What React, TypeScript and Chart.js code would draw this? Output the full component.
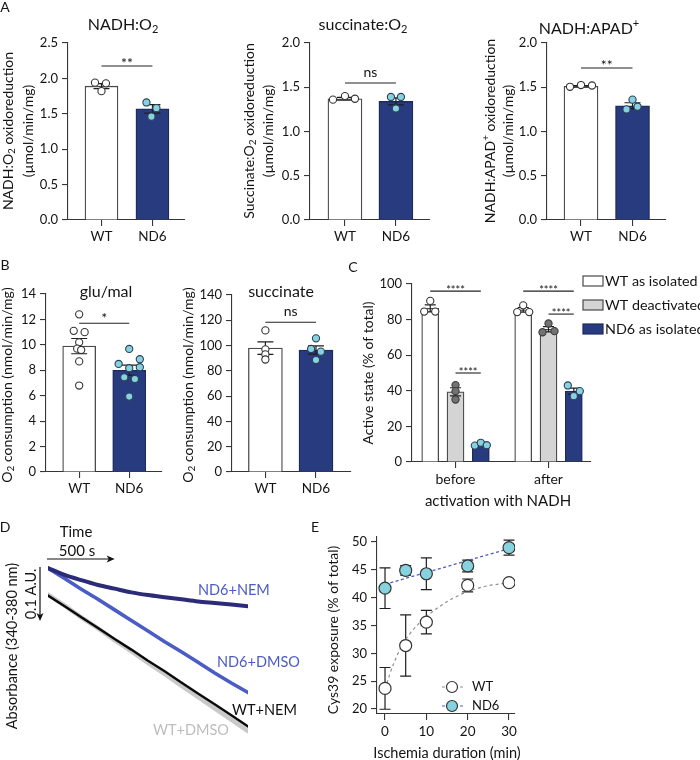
import React, { useEffect, useRef } from 'react';
import { Chart, registerables } from 'chart.js';

Chart.register(...registerables);

// ---------------- DATA ----------------
const GENOTYPES = ['WT', 'ND6'];

// Panel A: NADH:O2
const A1_MEAN = [1.89, 1.57];
const A1_SEM = [0.035, 0.06];
const A1_WT = [1.94, 1.93, 1.82];
const A1_ND6 = [1.66, 1.58, 1.46];
const A1_SIG = { y: 2.175, text: '**' };
// Panel A: succinate:O2
const A2_MEAN = [1.37, 1.34];
const A2_SEM = [0.015, 0.04];
const A2_WT = [1.36, 1.4, 1.37];
const A2_ND6 = [1.39, 1.39, 1.26];
const A2_SIG = { y: 1.548, text: 'ns' };
// Panel A: NADH:APAD+
const A3_MEAN = [1.51, 1.29];
const A3_SEM = [0.01, 0.035];
const A3_WT = [1.505, 1.525, 1.52];
const A3_ND6 = [1.36, 1.25, 1.28];
const A3_SIG = { y: 1.717, text: '**' };
const A1_Y_TICKS = [0, 0.5, 1.0, 1.5, 2.0, 2.5];
const A23_Y_TICKS = [0, 0.5, 1.0, 1.5, 2.0];

// Panel B: O2 consumption
const B1_MEAN = [9.9, 8.0];
const B1_SEM = [0.6, 0.4];
const B1_WT = [12.4, 11.1, 11.0, 10.2, 9.7, 9.6, 8.7, 6.8];
const B1_ND6 = [9.68, 8.5, 8.87, 8.16, 8.24, 7.45, 7.32, 5.93];
const B1_SIG = { y: 11.7, text: '*' };
const B2_MEAN = [98, 96.5];
const B2_SEM = [5, 3.2];
const B2_WT = [112, 97, 93, 89];
const B2_ND6 = [105.7, 97.3, 95.2, 88.6];
const B2_SIG = { y: 118.4, text: 'ns' };
const B1_Y_TICKS = [0, 2, 4, 6, 8, 10, 12, 14];
const B2_Y_TICKS = [0, 20, 40, 60, 80, 100, 120, 140];

// Panel C: active state
const C_GROUPS = ['before', 'after'];
const C_SERIES = ['WT as isolated', 'WT deactivated', 'ND6 as isolated'];
const C_WT_ISO_MEAN = [86.3, 85.5];
const C_WT_ISO_SEM = [2.0, 1.3];
const C_WT_DEACT_MEAN = [39.4, 74.6];
const C_WT_DEACT_SEM = [2.3, 1.5];
const C_ND6_ISO_MEAN = [9.6, 39.8];
const C_ND6_ISO_SEM = [0.5, 1.7];
const C_WT_ISO_PTS = [[90.5, 84.5, 84.5], [88.0, 84.2, 84.2]];
const C_WT_DEACT_PTS = [[43.2, 39.8, 35.1], [77.8, 72.9, 73.5]];
const C_ND6_ISO_PTS = [[9.2, 10.8, 9.4], [43.0, 39.8, 37.0]];
const C_Y_TICKS = [0, 20, 40, 60, 80, 100];
const C_SIG_Y = [96, 50, 96, 83.1];

// Panel D: absorbance traces (A.U., relative), time in s
const D_TIME = [0, 125, 250, 375, 500, 625, 750, 875, 1000, 1125, 1250, 1375, 1500];
const D_ND6_NEM = [0, -0.013, -0.023, -0.032, -0.039, -0.046, -0.051, -0.055, -0.059, -0.063, -0.066, -0.069, -0.072];
const D_ND6_DMSO = [0, -0.02, -0.04, -0.059, -0.079, -0.099, -0.119, -0.139, -0.158, -0.178, -0.198, -0.217, -0.235];
const D_WT_NEM = [-0.052, -0.072, -0.093, -0.113, -0.134, -0.154, -0.175, -0.195, -0.216, -0.237, -0.257, -0.278, -0.299];
const D_WT_DMSO = [-0.05, -0.071, -0.093, -0.114, -0.136, -0.157, -0.179, -0.2, -0.222, -0.243, -0.265, -0.286, -0.308];
const D_SCALE_T = 500;
const D_SCALE_AU = 0.1;

// Panel E: Cys39 exposure
const E_TIME = [0, 5, 10, 20, 30];
const E_WT = [23.7, 31.4, 35.6, 42.2, 42.7];
const E_WT_ERR = [3.75, 5.5, 2.1, 1.15, 0.3];
const E_ND6 = [41.7, 44.9, 44.3, 45.7, 49.0];
const E_ND6_ERR = [3.65, 0.85, 2.85, 1.05, 1.35];
const E_WT_FIT_T = [0, 1, 2, 4, 6, 8, 10, 13, 16, 20, 24, 28, 30];
const E_WT_FIT = [23.6, 25.9, 28.0, 31.3, 33.5, 35.2, 36.6, 38.3, 39.7, 41.1, 42.0, 42.5, 42.7];
const E_ND6_FIT_T = [0, 30];
const E_ND6_FIT = [42.4, 48.8];
const E_X_TICKS = [0, 10, 20, 30];
const E_Y_TICKS = [20, 25, 30, 35, 40, 45, 50];

// ---------------- STYLE ----------------
const FONT = 'Lato, "Noto Sans", "DejaVu Sans", sans-serif';
const TEXT = '#141414';
const AXIS = '#363636';
const NAVY = '#283b7e';
const NAVY_EDGE = '#1d2a5e';
const CYAN = '#86d3df';
const GRAY_BAR = '#d4d4d4';
const GRAY_DOT = '#727272';
const BLUE = '#4b5cc4';
const INDIGO = '#2b2b7a';
const WT_EDGE = '#4a4a4a';

type Rect = { x: number; y: number; w: number; h: number };
type Area = { l: number; t: number; r: number; b: number };
type Seg = { t: string; sub?: boolean; sup?: boolean };
type TextSpec = { x: number; y: number; text: string | Seg[]; size?: number; color?: string; align?: 'left' | 'center' | 'right'; rot?: boolean };
type Err = { dataset: number; xs: number[]; lo: number[]; hi: number[]; cap: number };
type Sig = { x1: number; x2: number; y: number; text: string; size: number; lift: number };

function drawText(ctx: CanvasRenderingContext2D, s: TextSpec) {
  const size = s.size ?? 13;
  const segs: Seg[] = typeof s.text === 'string' ? [{ t: s.text }] : s.text;
  ctx.save();
  ctx.translate(s.x, s.y);
  if (s.rot) ctx.rotate(-Math.PI / 2);
  ctx.fillStyle = s.color ?? TEXT;
  ctx.textBaseline = 'middle';
  ctx.textAlign = 'left';
  const fontOf = (g: Seg) => `${g.sub || g.sup ? Math.round(size * 0.68) : size}px ${FONT}`;
  const widths = segs.map((g) => {
    ctx.font = fontOf(g);
    return ctx.measureText(g.t).width;
  });
  const total = widths.reduce((a, b) => a + b, 0);
  let x = s.align === 'left' ? 0 : s.align === 'right' ? -total : -total / 2;
  segs.forEach((g, i) => {
    ctx.font = fontOf(g);
    const dy = g.sub ? size * 0.3 : g.sup ? -size * 0.32 : 0;
    ctx.fillText(g.t, x, dy);
    x += widths[i];
  });
  ctx.restore();
}

function drawErr(chart: any, e: Err) {
  const { ctx, scales } = chart;
  const xs = scales.x;
  const ys = scales.y;
  ctx.save();
  ctx.strokeStyle = '#1e1e1e';
  ctx.lineWidth = 1.2;
  e.xs.forEach((xv, i) => {
    const px = xs.getPixelForValue(xv);
    const lo = ys.getPixelForValue(e.lo[i]);
    const hi = ys.getPixelForValue(e.hi[i]);
    ctx.beginPath();
    ctx.moveTo(px, lo);
    ctx.lineTo(px, hi);
    ctx.moveTo(px - e.cap / 2, hi);
    ctx.lineTo(px + e.cap / 2, hi);
    ctx.moveTo(px - e.cap / 2, lo);
    ctx.lineTo(px + e.cap / 2, lo);
    ctx.stroke();
  });
  ctx.restore();
}

function decor(d: {
  rect: Rect;
  errs?: Err[];
  errsFirst?: boolean;
  sigs?: Sig[];
  texts?: TextSpec[];
  extra?: (ctx: CanvasRenderingContext2D, chart: any, rect: Rect) => void;
}) {
  return {
    id: 'decor',
    beforeDatasetsDraw(chart: any) {
      if (d.errsFirst) (d.errs || []).forEach((e) => drawErr(chart, e));
    },
    afterDatasetDraw(chart: any, args: any) {
      if (!d.errsFirst) (d.errs || []).filter((e) => e.dataset === args.index).forEach((e) => drawErr(chart, e));
    },
    afterDraw(chart: any) {
      const ctx = chart.ctx as CanvasRenderingContext2D;
      const { x, y } = chart.scales;
      (d.sigs || []).forEach((s) => {
        const x1 = x.getPixelForValue(s.x1);
        const x2 = x.getPixelForValue(s.x2);
        const py = y.getPixelForValue(s.y);
        ctx.save();
        ctx.strokeStyle = '#222';
        ctx.lineWidth = 1.1;
        ctx.beginPath();
        ctx.moveTo(x1, py);
        ctx.lineTo(x2, py);
        ctx.stroke();
        ctx.fillStyle = TEXT;
        ctx.font = `${s.size}px ${FONT}`;
        ctx.textAlign = 'center';
        ctx.textBaseline = 'alphabetic';
        ctx.fillText(s.text, (x1 + x2) / 2, py + s.lift);
        ctx.restore();
      });
      if (d.extra) d.extra(ctx, chart, d.rect);
      ctx.save();
      ctx.translate(-d.rect.x, -d.rect.y);
      (d.texts || []).forEach((t) => drawText(ctx, t));
      ctx.restore();
    },
  };
}

function gridOpts() {
  return { display: true, drawOnChartArea: false, drawTicks: true, tickLength: 6, color: AXIS, lineWidth: 1.1, offset: false };
}
function borderOpts() {
  return { display: true, color: AXIS, width: 1.1 };
}

function xAxis(min: number, max: number, ticks: number[], labels: string[], size: number, pad: number, height: number) {
  return {
    type: 'linear',
    min,
    max,
    offset: false,
    afterBuildTicks: (s: any) => {
      s.ticks = ticks.map((v) => ({ value: v }));
    },
    afterFit: (s: any) => {
      s.height = height;
    },
    grid: gridOpts(),
    border: borderOpts(),
    ticks: {
      autoSkip: false,
      maxRotation: 0,
      minRotation: 0,
      padding: pad,
      color: TEXT,
      font: { family: FONT, size },
      callback: (_v: any, i: number) => labels[i],
    },
  };
}

function yAxis(min: number, max: number, ticks: number[], fmt: (v: number) => string, size: number, width: number) {
  return {
    type: 'linear',
    min,
    max,
    offset: false,
    afterBuildTicks: (s: any) => {
      s.ticks = ticks.map((v) => ({ value: v }));
    },
    afterFit: (s: any) => {
      s.width = width;
    },
    grid: gridOpts(),
    border: borderOpts(),
    ticks: {
      autoSkip: false,
      padding: 4,
      color: TEXT,
      font: { family: FONT, size },
      callback: (_v: any, i: number) => fmt(ticks[i]),
    },
  };
}

interface Series {
  xs: number[];
  means: number[];
  sems: number[];
  fill: string;
  edge: string;
  points: number[][];
  jitter: number[][];
  dotFill: string;
  dotEdge: string;
}

interface BarSpec {
  rect: Rect;
  area: Area;
  xMin: number;
  xMax: number;
  xTicks: number[];
  xLabels: string[];
  xFont: number;
  xPad: number;
  yMax: number;
  yTicks: number[];
  yDec: number;
  barW: number;
  dotR: number;
  cap: number;
  series: Series[];
  sigs: Sig[];
  texts: TextSpec[];
  extra?: (ctx: CanvasRenderingContext2D, chart: any, rect: Rect) => void;
}

function barConfig(sp: BarSpec) {
  const pxPerX = (sp.area.r - sp.area.l) / (sp.xMax - sp.xMin);
  const datasets: any[] = [];
  sp.series.forEach((s) =>
    datasets.push({
      type: 'bar',
      data: s.xs.map((x, i) => ({ x, y: s.means[i] })),
      backgroundColor: s.fill,
      borderColor: s.edge,
      borderWidth: 1.3,
      borderSkipped: 'start',
      barThickness: sp.barW,
      grouped: false,
      order: 10,
    })
  );
  sp.series.forEach((s) => {
    const pts: { x: number; y: number }[] = [];
    s.points.forEach((arr, i) =>
      arr.forEach((v, k) => pts.push({ x: s.xs[i] + (s.jitter[i][k] || 0) / pxPerX, y: v }))
    );
    datasets.push({
      type: 'scatter',
      data: pts,
      pointRadius: sp.dotR,
      pointBackgroundColor: s.dotFill,
      pointBorderColor: s.dotEdge,
      pointBorderWidth: 1.1,
      order: 1,
    });
  });
  const errs: Err[] = sp.series.map((s, i) => ({
    dataset: i,
    xs: s.xs,
    lo: s.means.map((m, k) => m - s.sems[k]),
    hi: s.means.map((m, k) => m + s.sems[k]),
    cap: sp.cap,
  }));
  return {
    type: 'bar',
    data: { datasets },
    options: {
      responsive: false,
      animation: false,
      events: [],
      layout: {
        padding: { left: 0, top: sp.area.t - sp.rect.y, right: sp.rect.x + sp.rect.w - sp.area.r, bottom: 0 },
      },
      plugins: { legend: { display: false }, tooltip: { enabled: false } },
      scales: {
        x: xAxis(sp.xMin, sp.xMax, sp.xTicks, sp.xLabels, sp.xFont, sp.xPad, sp.rect.y + sp.rect.h - sp.area.b),
        y: yAxis(0, sp.yMax, sp.yTicks, (v) => v.toFixed(sp.yDec), 13, sp.area.l - sp.rect.x),
      },
    },
    plugins: [decor({ rect: sp.rect, errs, sigs: sp.sigs, texts: sp.texts, extra: sp.extra })],
  };
}

function genoSeries(means: number[], sems: number[], wt: number[], nd6: number[], jWT: number[], jND6: number[]): Series[] {
  return [
    { xs: [0], means: [means[0]], sems: [sems[0]], fill: '#ffffff', edge: WT_EDGE, points: [wt], jitter: [jWT], dotFill: '#ffffff', dotEdge: '#333' },
    { xs: [1], means: [means[1]], sems: [sems[1]], fill: NAVY, edge: NAVY_EDGE, points: [nd6], jitter: [jND6], dotFill: CYAN, dotEdge: '#2f3f5a' },
  ];
}

const sub2 = (pre: string, post = ''): Seg[] => [{ t: pre }, { t: '2', sub: true }, ...(post ? [{ t: post }] : [])];

// ---------- Panel A ----------
const A1: BarSpec = {
  rect: { x: -2, y: 0, w: 192, h: 252 },
  area: { l: 68, t: 43, r: 185, b: 220 },
  xMin: -0.657, xMax: 1.637, xTicks: [0, 1], xLabels: GENOTYPES, xFont: 13.5, xPad: 3,
  yMax: 2.5, yTicks: A1_Y_TICKS, yDec: 1, barW: 33, dotR: 3.6, cap: 16,
  series: genoSeries(A1_MEAN, A1_SEM, A1_WT, A1_ND6, [-6.5, 4.5, 0], [-6, 4, -1]),
  sigs: [{ x1: 0, x2: 1, y: A1_SIG.y, text: A1_SIG.text, size: 14, lift: 2 }],
  texts: [
    { x: 123, y: 25, text: sub2('NADH:O'), size: 16 },
    { x: 8, y: 131, text: sub2('NADH:O', ' oxidoreduction'), size: 14, rot: true },
    { x: 28, y: 131, text: '(µmol/min/mg)', size: 14, rot: true },
  ],
};
const A2: BarSpec = {
  rect: { x: 236, y: 0, w: 199, h: 252 },
  area: { l: 310, t: 43, r: 430, b: 220 },
  xMin: -0.686, xMax: 1.667, xTicks: [0, 1], xLabels: GENOTYPES, xFont: 13.5, xPad: 3,
  yMax: 2.0, yTicks: A23_Y_TICKS, yDec: 1, barW: 34, dotR: 3.6, cap: 16,
  series: genoSeries(A2_MEAN, A2_SEM, A2_WT, A2_ND6, [-12, 0, 10], [-5, 5, 0]),
  sigs: [{ x1: 0, x2: 1, y: A2_SIG.y, text: A2_SIG.text, size: 14, lift: -6 }],
  texts: [
    { x: 363, y: 25, text: sub2('succinate:O'), size: 16 },
    { x: 249, y: 131, text: sub2('Succinate:O', ' oxidoreduction'), size: 14, rot: true },
    { x: 268, y: 131, text: '(µmol/min/mg)', size: 14, rot: true },
  ],
};
const A3: BarSpec = {
  rect: { x: 476, y: 0, w: 196, h: 252 },
  area: { l: 547, t: 43, r: 666, b: 220 },
  xMin: -0.66, xMax: 1.65, xTicks: [0, 1], xLabels: GENOTYPES, xFont: 13.5, xPad: 3,
  yMax: 2.0, yTicks: A23_Y_TICKS, yDec: 1, barW: 34, dotR: 3.6, cap: 16,
  series: genoSeries(A3_MEAN, A3_SEM, A3_WT, A3_ND6, [-11, 0, 11], [0, -6, 5]),
  sigs: [{ x1: 0, x2: 1, y: A3_SIG.y, text: A3_SIG.text, size: 14, lift: 2 }],
  texts: [
    { x: 589, y: 29, text: [{ t: 'NADH:APAD' }, { t: '+', sup: true }], size: 16 },
    { x: 490, y: 131, text: [{ t: 'NADH:APAD' }, { t: '+', sup: true }, { t: ' oxidoreduction' }], size: 14, rot: true },
    { x: 508, y: 131, text: '(µmol/min/mg)', size: 14, rot: true },
  ],
};

// ---------- Panel B ----------
const B1: BarSpec = {
  rect: { x: -3, y: 262, w: 170, h: 238 },
  area: { l: 46, t: 294, r: 163, b: 472 },
  xMin: -0.663, xMax: 1.653, xTicks: [0, 1], xLabels: GENOTYPES, xFont: 13.5, xPad: 3,
  yMax: 14, yTicks: B1_Y_TICKS, yDec: 0, barW: 33, dotR: 3.6, cap: 16,
  series: genoSeries(B1_MEAN, B1_SEM, B1_WT, B1_ND6, [0, -5.5, 5.5, 0, -2, 2, 0, 0], [0, -10.7, 10.7, 0, 10.7, -5, 5.7, 0]),
  sigs: [{ x1: 0, x2: 1, y: B1_SIG.y, text: B1_SIG.text, size: 14, lift: 0 }],
  texts: [
    { x: 106, y: 292, text: 'glu/mal', size: 16 },
    { x: 7, y: 385, text: sub2('O', ' consumption (nmol/min/mg)'), size: 14, rot: true },
  ],
};
const B2: BarSpec = {
  rect: { x: 176, y: 262, w: 180, h: 238 },
  area: { l: 232, t: 295, r: 353, b: 472 },
  xMin: -0.66, xMax: 1.69, xTicks: [0, 1], xLabels: GENOTYPES, xFont: 13.5, xPad: 3,
  yMax: 140, yTicks: B2_Y_TICKS, yDec: 0, barW: 34, dotR: 3.6, cap: 16,
  series: genoSeries(B2_MEAN, B2_SEM, B2_WT, B2_ND6, [0, 0, 0, 0], [0, -5, 5, 0]),
  sigs: [{ x1: 0, x2: 1, y: B2_SIG.y, text: B2_SIG.text, size: 14, lift: -6 }],
  texts: [
    { x: 281, y: 292, text: 'succinate', size: 16 },
    { x: 188, y: 385, text: sub2('O', ' consumption (nmol/min/mg)'), size: 14, rot: true },
  ],
};

// ---------- Panel C ----------
const C_OFF = 0.272;
const C_FILLS = ['#ffffff', GRAY_BAR, NAVY];
const C: BarSpec = {
  rect: { x: 355, y: 262, w: 345, h: 250 },
  area: { l: 412, t: 284, r: 591, b: 462 },
  xMin: -0.468, xMax: 1.457, xTicks: [0, 1], xLabels: C_GROUPS, xFont: 14, xPad: 3,
  yMax: 100, yTicks: C_Y_TICKS, yDec: 0, barW: 17, dotR: 3.6, cap: 11,
  series: [
    { xs: [-C_OFF, 1 - C_OFF], means: C_WT_ISO_MEAN, sems: C_WT_ISO_SEM, fill: C_FILLS[0], edge: WT_EDGE, points: C_WT_ISO_PTS, jitter: [[0, -6, 5], [0, -6, 6]], dotFill: '#ffffff', dotEdge: '#333' },
    { xs: [0, 1], means: C_WT_DEACT_MEAN, sems: C_WT_DEACT_SEM, fill: C_FILLS[1], edge: WT_EDGE, points: C_WT_DEACT_PTS, jitter: [[0, 0, 0], [0, -6, 6]], dotFill: GRAY_DOT, dotEdge: '#3d3d3d' },
    { xs: [C_OFF, 1 + C_OFF], means: C_ND6_ISO_MEAN, sems: C_ND6_ISO_SEM, fill: C_FILLS[2], edge: NAVY_EDGE, points: C_ND6_ISO_PTS, jitter: [[-6, 0, 6], [-6, 6, 0]], dotFill: CYAN, dotEdge: '#2f3f5a' },
  ],
  sigs: [
    { x1: -C_OFF, x2: C_OFF, y: C_SIG_Y[0], text: '****', size: 11, lift: 3 },
    { x1: 0, x2: C_OFF, y: C_SIG_Y[1], text: '****', size: 11, lift: 3 },
    { x1: 1 - C_OFF, x2: 1 + C_OFF, y: C_SIG_Y[2], text: '****', size: 11, lift: 3 },
    { x1: 1, x2: 1 + C_OFF, y: C_SIG_Y[3], text: '****', size: 11, lift: 3 },
  ],
  texts: [
    { x: 368, y: 373, text: 'Active state (% of total)', size: 14, rot: true },
    { x: 498, y: 501, text: 'activation with NADH', size: 15 },
    ...C_SERIES.map((s, i) => ({ x: 605, y: 281 + i * 24, text: s, size: 14.3, align: 'left' as const })),
  ],
  extra: (ctx, _chart, rect) => {
    ctx.save();
    ctx.translate(-rect.x, -rect.y);
    C_SERIES.forEach((_s, i) => {
      const cy = 281 + i * 24;
      ctx.fillStyle = C_FILLS[i];
      ctx.fillRect(583, cy - 5, 20, 10);
      ctx.strokeStyle = i === 2 ? NAVY_EDGE : WT_EDGE;
      ctx.lineWidth = 1.2;
      ctx.strokeRect(583, cy - 5, 20, 10);
    });
    ctx.restore();
  },
};

// ---------- Panel D ----------
const D_RECT: Rect = { x: 0, y: 515, w: 310, h: 245 };
const D_Y_MIN = -0.33;
const D_Y_MAX = 0.02;
function dConfig() {
  const mk = (vals: number[]) => D_TIME.map((t, i) => ({ x: t, y: vals[i] }));
  return {
    type: 'line',
    data: {
      datasets: [
        { data: mk(D_WT_DMSO), borderColor: '#c9c9c9', borderWidth: 4.5, pointRadius: 0, borderCapStyle: 'round', order: 4 },
        { data: mk(D_WT_NEM), borderColor: '#0a0a0a', borderWidth: 2.4, pointRadius: 0, borderCapStyle: 'round', order: 3 },
        { data: mk(D_ND6_DMSO), borderColor: BLUE, borderWidth: 3.6, pointRadius: 0, borderCapStyle: 'round', order: 2 },
        { data: mk(D_ND6_NEM), borderColor: INDIGO, borderWidth: 4, pointRadius: 0, borderCapStyle: 'round', cubicInterpolationMode: 'monotone', order: 1 },
      ],
    },
    options: {
      responsive: false,
      animation: false,
      events: [],
      layout: { padding: { left: 48, right: 62, top: 42.4, bottom: 17.1 } },
      plugins: { legend: { display: false }, tooltip: { enabled: false } },
      scales: {
        x: { type: 'linear', display: false, min: 0, max: 1500 },
        y: { type: 'linear', display: false, min: D_Y_MIN, max: D_Y_MAX },
      },
    },
    plugins: [
      decor({
        rect: D_RECT,
        texts: [
          { x: 76, y: 532, text: 'Time', size: 15 },
          { x: 77, y: 551, text: '500 s', size: 15 },
          { x: 31, y: 594, text: '0.1 A.U.', size: 14.5, rot: true },
          { x: 12, y: 646, text: 'Absorbance (340-380 nm)', size: 14.5, rot: true },
          { x: 198, y: 590, text: 'ND6+NEM', size: 14.5, color: BLUE, align: 'left' },
          { x: 217, y: 662, text: 'ND6+DMSO', size: 14.5, color: BLUE, align: 'left' },
          { x: 232, y: 710, text: 'WT+NEM', size: 14.5, color: '#111', align: 'left' },
          { x: 153, y: 730, text: 'WT+DMSO', size: 14.5, color: '#bdbdbd', align: 'left' },
        ],
        extra: (ctx, chart) => {
          const xs = chart.scales.x;
          const ys = chart.scales.y;
          const x0 = xs.getPixelForValue(0);
          const x1 = xs.getPixelForValue(D_SCALE_T);
          const y0 = ys.getPixelForValue(0);
          const y1 = ys.getPixelForValue(-D_SCALE_AU);
          const hy = y0 - 9;
          const vx = x0 - 8;
          ctx.save();
          ctx.strokeStyle = '#111';
          ctx.fillStyle = '#111';
          ctx.lineWidth = 1.2;
          ctx.beginPath();
          ctx.moveTo(x0 - 1, hy);
          ctx.lineTo(x1 - 5, hy);
          ctx.moveTo(vx, y0 - 1);
          ctx.lineTo(vx, y1 - 5);
          ctx.stroke();
          ctx.beginPath();
          ctx.moveTo(x1, hy);
          ctx.lineTo(x1 - 8, hy - 3.5);
          ctx.lineTo(x1 - 6, hy);
          ctx.lineTo(x1 - 8, hy + 3.5);
          ctx.closePath();
          ctx.fill();
          ctx.beginPath();
          ctx.moveTo(vx, y1);
          ctx.lineTo(vx - 3.5, y1 - 8);
          ctx.lineTo(vx, y1 - 6);
          ctx.lineTo(vx + 3.5, y1 - 8);
          ctx.closePath();
          ctx.fill();
          ctx.restore();
        },
      }),
    ],
  };
}

// ---------- Panel E ----------
const E_RECT: Rect = { x: 318, y: 515, w: 382, h: 245 };
const E_AREA: Area = { l: 377, t: 537, r: 515, b: 714 };
function eConfig() {
  const pts = (xs: number[], ys: number[]) => xs.map((x, i) => ({ x, y: ys[i] }));
  return {
    type: 'scatter',
    data: {
      datasets: [
        { type: 'line', data: pts(E_WT_FIT_T, E_WT_FIT), borderColor: '#8e8e8e', borderWidth: 1.2, borderDash: [3, 3], pointRadius: 0, cubicInterpolationMode: 'monotone', order: 5 },
        { type: 'line', data: pts(E_ND6_FIT_T, E_ND6_FIT), borderColor: BLUE, borderWidth: 1.3, borderDash: [3, 2.5], pointRadius: 0, order: 4 },
        { type: 'scatter', data: pts(E_TIME, E_WT), pointRadius: 6, pointBackgroundColor: '#ffffff', pointBorderColor: '#333', pointBorderWidth: 1.2, order: 2 },
        { type: 'scatter', data: pts(E_TIME, E_ND6), pointRadius: 6, pointBackgroundColor: CYAN, pointBorderColor: '#333', pointBorderWidth: 1.2, order: 1 },
      ],
    },
    options: {
      responsive: false,
      animation: false,
      events: [],
      layout: { padding: { left: 0, top: E_AREA.t - E_RECT.y, right: E_RECT.x + E_RECT.w - E_AREA.r, bottom: 0 } },
      plugins: { legend: { display: false }, tooltip: { enabled: false } },
      scales: {
        x: xAxis(-1.94, 31.45, E_X_TICKS, E_X_TICKS.map(String), 13.5, 4, E_RECT.y + E_RECT.h - E_AREA.b),
        y: yAxis(19.1, 50.9, E_Y_TICKS, (v) => String(v), 13, E_AREA.l - E_RECT.x),
      },
    },
    plugins: [
      decor({
        rect: E_RECT,
        errsFirst: true,
        errs: [
          { dataset: 2, xs: E_TIME, lo: E_WT.map((v, i) => v - E_WT_ERR[i]), hi: E_WT.map((v, i) => v + E_WT_ERR[i]), cap: 11 },
          { dataset: 3, xs: E_TIME, lo: E_ND6.map((v, i) => v - E_ND6_ERR[i]), hi: E_ND6.map((v, i) => v + E_ND6_ERR[i]), cap: 11 },
        ],
        texts: [
          { x: 333, y: 630, text: 'Cys39 exposure (% of total)', size: 14, rot: true },
          { x: 447, y: 753, text: 'Ischemia duration (min)', size: 14.5 },
          { x: 472, y: 687, text: 'WT', size: 13, align: 'left' },
          { x: 472, y: 706, text: 'ND6', size: 13, align: 'left' },
        ],
        extra: (ctx, _chart, rect) => {
          ctx.save();
          ctx.translate(-rect.x, -rect.y);
          const rows = [
            { y: 687, line: '#8e8e8e', fill: '#ffffff' },
            { y: 706, line: BLUE, fill: CYAN },
          ];
          rows.forEach((r) => {
            ctx.strokeStyle = r.line;
            ctx.lineWidth = 1.2;
            ctx.setLineDash([3, 3]);
            ctx.beginPath();
            ctx.moveTo(442, r.y);
            ctx.lineTo(463, r.y);
            ctx.stroke();
            ctx.setLineDash([]);
            ctx.beginPath();
            ctx.arc(452, r.y, 5.5, 0, Math.PI * 2);
            ctx.fillStyle = r.fill;
            ctx.fill();
            ctx.strokeStyle = '#333';
            ctx.stroke();
          });
          ctx.restore();
        },
      }),
    ],
  };
}

function ChartBox({ rect, make }: { rect: Rect; make: () => any }) {
  const ref = useRef<HTMLCanvasElement | null>(null);
  useEffect(() => {
    if (!ref.current) return;
    const chart = new Chart(ref.current, make());
    return () => chart.destroy();
  }, []);
  return (
    <canvas
      ref={ref}
      width={rect.w}
      height={rect.h}
      style={{ position: 'absolute', left: rect.x, top: rect.y, width: rect.w, height: rect.h, display: 'block' }}
    />
  );
}

const LETTERS = [
  { t: 'A', x: 5, y: 7 },
  { t: 'B', x: 5, y: 265 },
  { t: 'C', x: 353, y: 267 },
  { t: 'D', x: 5, y: 527 },
  { t: 'E', x: 315, y: 527 },
];

export default function App() {
  return (
    <div style={{ position: 'absolute', left: 0, top: 0, width: 700, height: 760, background: '#ffffff', overflow: 'hidden' }}>
      <ChartBox rect={A1.rect} make={() => barConfig(A1)} />
      <ChartBox rect={A2.rect} make={() => barConfig(A2)} />
      <ChartBox rect={A3.rect} make={() => barConfig(A3)} />
      <ChartBox rect={B1.rect} make={() => barConfig(B1)} />
      <ChartBox rect={B2.rect} make={() => barConfig(B2)} />
      <ChartBox rect={C.rect} make={() => barConfig(C)} />
      <ChartBox rect={D_RECT} make={dConfig} />
      <ChartBox rect={E_RECT} make={eConfig} />
      {LETTERS.map((l) => (
        <span
          key={l.t}
          style={{
            position: 'absolute',
            left: l.x,
            top: l.y,
            transform: 'translate(-50%, -50%)',
            fontFamily: FONT,
            fontSize: 14,
            lineHeight: 1,
            color: TEXT,
          }}
        >
          {l.t}
        </span>
      ))}
    </div>
  );
}
